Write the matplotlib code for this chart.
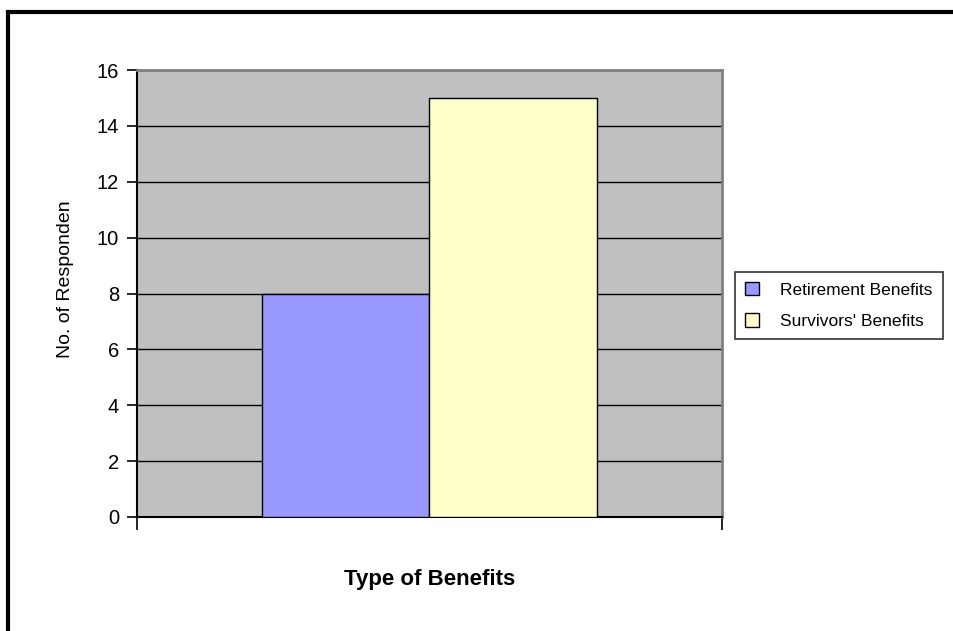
import matplotlib.pyplot as plt
from matplotlib.lines import Line2D
import numpy as np

plt.rcParams['font.family'] = ['Liberation Sans', 'DejaVu Sans']

# datos
series = ["Retirement Benefits", "Survivors' Benefits"]
values = [8, 15]
colors = ['#9999FF', '#FFFFCC']
yticks = [0, 2, 4, 6, 8, 10, 12, 14, 16]

fig = plt.figure(figsize=(9.54, 6.31), dpi=100)
W, H = 954, 631
ax = fig.add_axes([137 / W, 1 - 517 / H, (722 - 137) / W, (517 - 70) / H])
ax.set_facecolor('#C0C0C0')

# barras (una categoria, dos series, gap 150%)
bw = 1 / 3.5
x = np.array([0.0])
handles = []
for i, (name, v, c) in enumerate(zip(series, values, colors)):
    h = ax.bar(x + (i - 0.5) * bw, [v], width=bw, color=c, edgecolor='black',
               linewidth=1, label=name, zorder=3)
    handles.append(h)

ax.set_xlim(-0.5, 0.5)
ax.set_ylim(0, 16)
ax.set_yticks(yticks)
ax.set_yticklabels([str(t) for t in yticks], fontsize=14.5)
ax.yaxis.grid(True, color='black', linewidth=1)
ax.set_axisbelow(True)
ax.set_xticks([-0.5, 0.5])
ax.set_xticklabels(['', ''])
ax.tick_params(axis='y', length=7, width=1.2, pad=6)
ax.tick_params(axis='x', length=9, width=1.2)

for s in ['left', 'bottom']:
    ax.spines[s].set_color('black')
    ax.spines[s].set_linewidth(1.5)
for s in ['top', 'right']:
    ax.spines[s].set_color('#808080')
    ax.spines[s].set_linewidth(2)

# etiqueta eje y (recortada como en el original)
yl = fig.text(66 / W, 1 - 358 / H, 'No. of Respondents', rotation=90,
              ha='center', va='bottom', fontsize=14)
clip = plt.Rectangle((0, 0), 1, 1 - 201 / H, transform=fig.transFigure)
yl.set_clip_path(clip)

fig.text(430 / W, 1 - 580 / H, 'Type of Benefits', ha='center', va='center',
         fontsize=16, fontweight='bold')

# leyenda
leg = fig.legend(handles=handles, labels=series, loc='center left',
                 bbox_to_anchor=(735 / W, 1 - 305.5 / H), fontsize=12.5,
                 frameon=True, fancybox=False, edgecolor='black',
                 handlelength=0.8, handleheight=0.8, handletextpad=1.2,
                 labelspacing=0.9, borderpad=0.6, borderaxespad=0)
leg.get_frame().set_linewidth(1.2)

# marco exterior
fig.add_artist(Line2D([8 / W, 8 / W, 1], [0, 1 - 12 / H, 1 - 12 / H],
                      transform=fig.transFigure, color='black', linewidth=3,
                      solid_joinstyle='miter'))

fig.savefig('out.png', dpi=100)
